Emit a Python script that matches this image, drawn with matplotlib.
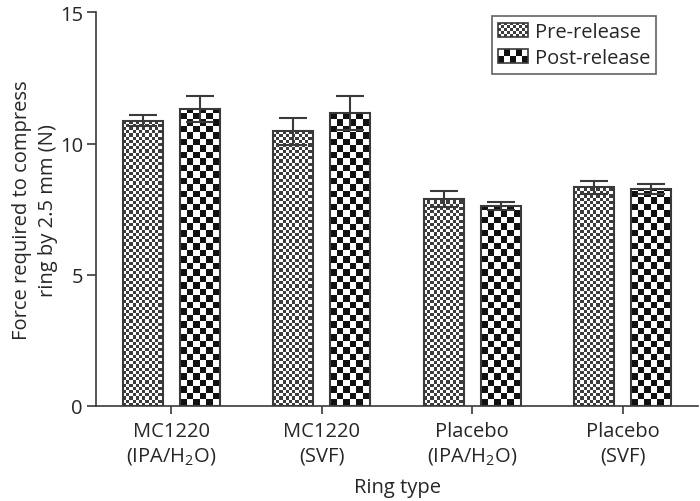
import numpy as np
import matplotlib
matplotlib.use("Agg")
import matplotlib.pyplot as plt
from matplotlib.patches import Rectangle
from matplotlib.legend_handler import HandlerBase

plt.rcParams['font.family'] = ['Open Sans', 'DejaVu Sans']
plt.rcParams['mathtext.fontset'] = 'custom'
plt.rcParams['mathtext.rm'] = 'Open Sans'
plt.rcParams['mathtext.default'] = 'regular'

categories = ["MC1220\n(IPA/H$_2$O)", "MC1220\n(SVF)", "Placebo\n(IPA/H$_2$O)", "Placebo\n(SVF)"]
series_names = ["Pre-release", "Post-release"]
pre_values = [10.87, 10.47, 7.89, 8.33]
pre_errors = [0.22, 0.52, 0.32, 0.25]
post_values = [11.32, 11.17, 7.63, 8.27]
post_errors = [0.50, 0.66, 0.16, 0.19]
y_ticks = [0, 5, 10, 15]

DPI = 100
W, H = 700, 502
FS = 14.5
AX_L, AX_R, AX_T, AX_B = 96, 698, 13.3, 407
fig = plt.figure(figsize=(W / DPI, H / DPI), dpi=DPI)
ax = fig.add_axes([AX_L / W, 1 - AX_B / H, (AX_R - AX_L) / W, (AX_B - AX_T) / H])

TEXT = "#262626"
EDGE = "#3a3a3a"
x = np.arange(len(categories))
off = 0.19
bw = 0.265

ax.set_xlim(-0.5, 3.5)
ax.set_ylim(0, 15)

def checker_fill(rect, sq_px, dark):
    # fill a bar with a checkerboard clipped to the bar patch
    bx, by = rect.get_x(), rect.get_y()
    w, h = rect.get_width(), rect.get_height()
    dx = (ax.get_xlim()[1] - ax.get_xlim()[0]) / (AX_R - AX_L)
    dy = (ax.get_ylim()[1] - ax.get_ylim()[0]) / (AX_B - AX_T)
    m = int(np.ceil(w / (sq_px * dx))) + 1
    n = int(np.ceil(h / (sq_px * dy))) + 1
    board = (np.add.outer(np.arange(n), np.arange(m)) % 2).astype(float)
    img = ax.imshow(board, cmap=matplotlib.colors.ListedColormap([dark, "white"]),
                    extent=[bx, bx + m * sq_px * dx, by, by + n * sq_px * dy],
                    origin="lower", interpolation="nearest", aspect="auto", zorder=1.5)
    img.set_clip_path(rect)

bars_pre = ax.bar(x - off, pre_values, bw, color="white", edgecolor=EDGE, linewidth=1.5, zorder=2)
bars_post = ax.bar(x + off, post_values, bw, color="white", edgecolor=EDGE, linewidth=1.5, zorder=2)
for r in bars_pre:
    r.set_facecolor("none")
    checker_fill(r, 3.2, "#3c3c3c")
for r in bars_post:
    r.set_facecolor("none")
    checker_fill(r, 6.5, "#111111")
ax.set_xlim(-0.5, 3.5)
ax.set_ylim(0, 15)

ax.errorbar(x - off, pre_values, yerr=pre_errors, fmt="none", ecolor=EDGE, elinewidth=1.5,
            capsize=10, capthick=1.5, zorder=3)
ax.errorbar(x + off, post_values, yerr=post_errors, fmt="none", ecolor=EDGE, elinewidth=1.5,
            capsize=10, capthick=1.5, zorder=3)

for s in ["top", "right"]:
    ax.spines[s].set_visible(False)
for s in ["left", "bottom"]:
    ax.spines[s].set_color(EDGE)
    ax.spines[s].set_linewidth(1.2)

ax.set_xticks(x)
# va='baseline' anchors the last line's baseline
ax.set_xticklabels(categories, fontsize=FS, color=TEXT, linespacing=1.32, va="baseline")
ax.set_yticks(y_ticks)
ax.set_yticklabels([str(v) for v in y_ticks], fontsize=FS, color=TEXT)
ax.tick_params(axis="x", direction="out", length=6, width=1.2, color=EDGE,
               pad=(462 - AX_B) * 72 / DPI - 6)
ax.tick_params(axis="y", direction="out", length=6.5, width=1.2, color=EDGE, pad=3)

ax.set_xlabel("Ring type", fontsize=FS, color=TEXT, va="baseline")
ax.xaxis.set_label_coords(0.5, (AX_B - 493) / (AX_B - AX_T))
ax.set_ylabel("Force required to compress\nring by 2.5 mm (N)", fontsize=FS, color=TEXT,
              linespacing=1.39, va="baseline")
ax.yaxis.set_label_coords((47 - AX_L) / (AX_R - AX_L), 0.5)


class CheckerHandler(HandlerBase):
    def __init__(self, sq, dark):
        super().__init__()
        self.sq = sq
        self.dark = dark

    def create_artists(self, legend, orig_handle, xdescent, ydescent, width, height, fontsize, trans):
        arts = []
        nx = int(round(width / self.sq))
        ny = int(round(height / self.sq))
        sx = width / nx
        sy = height / ny
        for i in range(nx):
            for j in range(ny):
                if (i + j) % 2 == 0:
                    arts.append(Rectangle((-xdescent + i * sx, -ydescent + j * sy), sx, sy,
                                          facecolor=self.dark, edgecolor="none", transform=trans))
        arts.append(Rectangle((-xdescent, -ydescent), width, height, facecolor="none",
                              edgecolor=EDGE, linewidth=1.2, transform=trans))
        return arts


h_pre = Rectangle((0, 0), 1, 1)
h_post = Rectangle((0, 0), 1, 1)
leg = ax.legend([h_pre, h_post], series_names, loc="upper right",
                bbox_to_anchor=(656 / W, 1 - 16.7 / H), bbox_transform=fig.transFigure,
                fontsize=FS, frameon=True, fancybox=False, edgecolor=EDGE,
                handlelength=1.45, handleheight=0.7, handletextpad=0.35,
                borderpad=0.3, labelspacing=0.3, borderaxespad=0,
                handler_map={h_pre: CheckerHandler(2.2, "#3c3c3c"),
                             h_post: CheckerHandler(4.5, "#111111")})
leg.get_frame().set_linewidth(1.2)
for t in leg.get_texts():
    t.set_color(TEXT)

fig.savefig("out.png", dpi=DPI)
